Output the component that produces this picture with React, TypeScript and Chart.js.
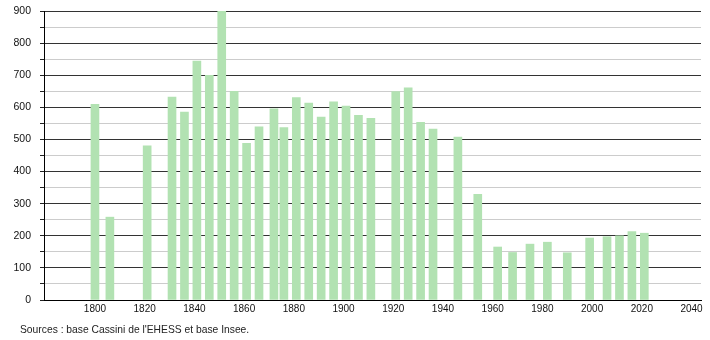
import React, { useEffect, useRef } from "react";
import { Chart, registerables } from "chart.js";

Chart.register(...registerables);

const years = [1800, 1806, 1821, 1831, 1836, 1841, 1846, 1851, 1856, 1861, 1866, 1872, 1876, 1881, 1886, 1891, 1896, 1901, 1906, 1911, 1921, 1926, 1931, 1936, 1946, 1954, 1962, 1968, 1975, 1982, 1990, 1999, 2006, 2011, 2016, 2021];
const population = [609, 258, 480, 632, 585, 744, 700, 902, 650, 488, 539, 595, 537, 630, 613, 570, 617, 604, 575, 566, 649, 661, 553, 532, 507, 329, 165, 148, 174, 180, 147, 193, 197, 200, 213, 208];
const yTickValues = [0, 100, 200, 300, 400, 500, 600, 700, 800, 900];
const xTickValues = [1800, 1820, 1840, 1860, 1880, 1900, 1920, 1940, 1960, 1980, 2000, 2020, 2040];
const sourceText = "Sources : base Cassini de l'EHESS et base Insee.";

export default function App() {
  const ref = useRef<HTMLCanvasElement | null>(null);

  useEffect(() => {
    document.body.style.margin = "0";
    const canvas = ref.current;
    if (!canvas) return;
    const chart = new Chart(canvas, {
      type: "bar",
      data: {
        datasets: [
          {
            data: years.map((y, i) => ({ x: y, y: population[i] })),
            backgroundColor: "rgb(178,226,178)",
            borderWidth: 0,
            barThickness: 8,
          },
        ],
      },
      options: {
        animation: false,
        responsive: false,
        maintainAspectRatio: false,
        layout: { padding: { left: 0, right: 9, top: 11, bottom: 0 } },
        plugins: { legend: { display: false }, tooltip: { enabled: false }, title: { display: false } },
        scales: {
          x: {
            type: "linear",
            min: 1779.5,
            max: 2043.8,
            offset: false,
            grid: { display: false, drawTicks: false },
            border: { display: true, color: "#000", width: 1 },
            afterBuildTicks: (scale: any) => {
              scale.ticks = xTickValues.map((v) => ({ value: v }));
            },
            afterFit: (scale: any) => {
              scale.height = 40;
              scale.paddingLeft = 0;
              scale.paddingRight = 0;
            },
            ticks: {
              autoSkip: false,
              maxRotation: 0,
              padding: 3,
              color: "#111",
              font: { family: "Liberation Sans, Arial, sans-serif", size: 10 },
              callback: (v: any) => String(v),
            },
          },
          y: {
            min: 0,
            max: 900,
            afterBuildTicks: (scale: any) => {
              const t: any[] = [];
              for (let v = 0; v <= 900; v += 50) t.push({ value: v });
              scale.ticks = t;
            },
            afterFit: (scale: any) => {
              scale.width = 44;
              scale.paddingTop = 0;
              scale.paddingBottom = 0;
            },
            grid: {
              drawTicks: true,
              tickLength: 4,
              lineWidth: 1,
              color: (ctx: any) => {
                const v = ctx.tick ? ctx.tick.value : 0;
                if (v === 0) return "rgba(0,0,0,0)";
                return v % 100 === 0 ? "#333333" : "#cccccc";
              },
              tickColor: "#222",
            },
            border: { display: true, color: "#000", width: 1 },
            ticks: {
              autoSkip: false,
              padding: 9,
              color: "#111",
              font: { family: "Liberation Sans, Arial, sans-serif", size: 10.5 },
              callback: (v: any) => (yTickValues.includes(Number(v)) ? String(v) : ""),
            },
          },
        },
      },
    });
    return () => chart.destroy();
  }, []);

  return (
    <div style={{ position: "absolute", left: 0, top: 0, width: 710, height: 340, background: "#fff" }}>
      <canvas ref={ref} width={710} height={340} style={{ display: "block", width: 710, height: 340 }} />
      <div
        style={{
          position: "absolute",
          left: 20,
          top: 323,
          fontFamily: "Liberation Sans, Arial, sans-serif",
          fontSize: 10.3,
          color: "#222",
          lineHeight: "13px",
          whiteSpace: "nowrap",
        }}
      >
        {sourceText}
      </div>
    </div>
  );
}
